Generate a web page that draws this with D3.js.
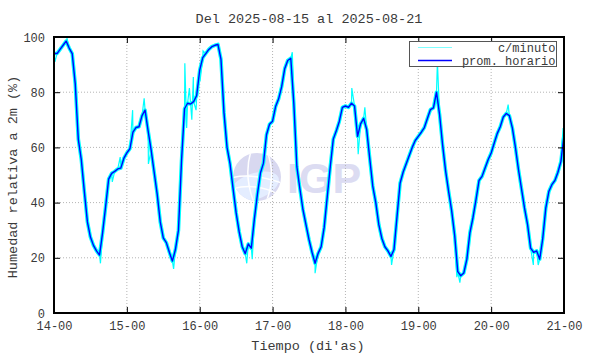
<!DOCTYPE html>
<html>
<head>
<meta charset="utf-8">
<script src="https://cdn.jsdelivr.net/npm/d3@7"></script>
<style>
  body { margin: 0; background: #fff; }
  svg { display: block; }
  text { font-family: "Liberation Mono", "DejaVu Sans Mono", monospace; fill: #3a3a3a; }
</style>
</head>
<body>
<div id="chart"></div>
<script>
// etiquetas del eje x (una por dia, a las 00 h)
const dias = ['14-00', '15-00', '16-00', '17-00', '18-00', '19-00', '20-00', '21-00']
const yTicks = [0, 20, 40, 60, 80, 100]

// promedio horario de humedad relativa (%), una lectura por hora desde 14-00
const dia14 = [94, 94, 95.5, 97, 98.5, 96, 94, 83, 63, 55.5, 44, 33, 27.5, 24.5, 22.5, 21, 29, 38.5, 48.5, 50.6, 51.3, 52.2, 52.5, 56]
const dia15 = [58, 59.5, 65.5, 67.2, 67.5, 71.5, 73.5, 66, 59, 51, 43, 33, 27.2, 25.5, 22, 18.8, 23, 30, 55, 74, 76, 75.7, 76.6, 78.8]
const dia16 = [88, 92.5, 94, 95.5, 96.5, 97, 97.3, 92, 72.5, 60, 54, 45, 36.3, 29.4, 24, 21.5, 25, 23.5, 34, 43, 50.7, 54.3, 64.6, 68.4]
const dia17 = [69.5, 74.8, 77.6, 82, 88.5, 91.5, 92.3, 76, 53, 45, 37.5, 32, 26.6, 22, 18, 21.6, 24, 31, 42, 53, 63, 66, 69.5, 74.5]
const dia18 = [75, 74.5, 76, 75, 64, 68.5, 70.5, 66.5, 56, 46, 40, 32, 27, 24, 22.5, 20.5, 23, 35, 47, 51, 54, 57, 60, 62.5]
const dia19 = [64, 65.5, 67.2, 70.5, 73.7, 74.3, 80, 72, 61, 51.5, 44, 37, 28, 15, 13.5, 14.5, 19.5, 29, 34.5, 41, 48, 49.5, 52.5, 55.5]
const dia20 = [58, 61.5, 65, 67.5, 71, 72.3, 71.5, 67, 60, 52, 45, 38, 32, 23.5, 22, 22.5, 19.5, 27, 38, 44, 46.5, 48, 51, 55]
const dia21 = [64.5]
const horario = [].concat(dia14, dia15, dia16, dia17, dia18, dia19, dia20, dia21)

// lecturas por minuto que se salen del promedio: [hora, %]
const minutoPicos = [
  [0.3, 91], [4.3, 99.5], [15.3, 18], [19.2, 47.5], [21.8, 56.5],
  [25.9, 73.5], [29.7, 77.8], [31.1, 54], [39.4, 16],
  [43.1, 90.5], [43.7, 67], [44.6, 81.5], [45.4, 70], [45.9, 85.5], [46.8, 73.5],
  [48.1, 84], [49.1, 95], [63.5, 18], [65.3, 19.5],
  [78.5, 94.5], [86.0, 14.4],
  [98.1, 81.5], [100.2, 57.5], [102.4, 74.5], [111.2, 17.4],
  [126.3, 91], [132.7, 13], [133.7, 11],
  [149.6, 75.5], [157.9, 17.4], [159.5, 17.4], [167.7, 67]
]

const W = 590, H = 354
const x = d3.scaleLinear().domain([0, 168]).range([54, 564])
const y = d3.scaleLinear().domain([0, 100]).range([313, 37])
const dayTicks = dias.map((d, i) => i * 24)

const svg = d3.select('#chart').append('svg')
  .attr('width', W).attr('height', H)

svg.append('rect').attr('width', W).attr('height', H).attr('fill', '#fff')

svg.append('defs').append('clipPath').attr('id', 'clip')
  .append('rect')
  .attr('x', x(0)).attr('y', y(100))
  .attr('width', x(168) - x(0)).attr('height', y(0) - y(100))

// marca de agua IGP
const logo = svg.append('g').attr('transform', 'translate(257,177)')
logo.append('defs').append('clipPath').attr('id', 'globe')
  .append('circle').attr('r', 24)
logo.append('circle').attr('r', 24).attr('fill', '#d8d8f0')
const globe = logo.append('g').attr('clip-path', 'url(#globe)')
globe.append('ellipse')
  .attr('cx', -6).attr('cy', 8).attr('rx', 26).attr('ry', 13)
  .attr('transform', 'rotate(-20)')
  .attr('fill', '#e4edff')
globe.append('path').attr('d', 'M-30,2 Q-5,-6 30,8').attr('stroke', '#fff').attr('stroke-width', 1.5).attr('fill', 'none')
globe.append('path').attr('d', 'M-30,14 Q-2,2 30,22').attr('stroke', '#fff').attr('stroke-width', 1.5).attr('fill', 'none')
globe.append('path').attr('d', 'M-6,-26 Q-14,0 -2,28').attr('stroke', '#fff').attr('stroke-width', 1.5).attr('fill', 'none')
globe.append('path').attr('d', 'M10,-26 Q20,0 8,28').attr('stroke', '#fff').attr('stroke-width', 1.5).attr('fill', 'none')
svg.append('text')
  .attr('x', 287).attr('y', 193)
  .style('font-family', '"Liberation Sans", Arial, sans-serif')
  .style('font-weight', 'bold')
  .style('font-size', '43px')
  .style('fill', '#dcdcf2')
  .text('IGP')

// rejilla punteada
const grid = svg.append('g')
grid.selectAll('.gx').data(dayTicks.slice(1, -1)).enter().append('line')
  .attr('x1', d => x(d)).attr('x2', d => x(d))
  .attr('y1', y(0)).attr('y2', y(100))
grid.selectAll('.gy').data(yTicks.slice(1, -1)).enter().append('line')
  .attr('x1', x(0)).attr('x2', x(168))
  .attr('y1', d => y(d)).attr('y2', d => y(d))
grid.selectAll('line')
  .attr('stroke', '#b4b4b4')
  .attr('stroke-width', 1)
  .attr('stroke-dasharray', '1,2')

// series
const line = d3.line().x(d => x(d[0])).y(d => y(d[1]))
const ptsHorario = horario.map((v, i) => [i, v])
const ptsMinuto = ptsHorario.concat(minutoPicos).sort((a, b) => a[0] - b[0])

const plot = svg.append('g').attr('clip-path', 'url(#clip)')
plot.append('path').datum(ptsHorario)
  .attr('d', line).attr('fill', 'none')
  .attr('stroke', '#00ffff').attr('stroke-width', 3.6)
  .attr('stroke-linejoin', 'round')
plot.append('path').datum(ptsMinuto)
  .attr('d', line).attr('fill', 'none')
  .attr('stroke', '#00ffff').attr('stroke-width', 1.2)
plot.append('path').datum(ptsHorario)
  .attr('d', line).attr('fill', 'none')
  .attr('stroke', '#0000ff').attr('stroke-width', 1.4)
  .attr('stroke-linejoin', 'round')

// ejes con marcas hacia adentro
const xAxis = d3.axisBottom(x).tickValues(dayTicks).tickSize(-6).tickFormat((d, i) => dias[i])
const yAxis = d3.axisLeft(y).tickValues(yTicks).tickSize(-6)
const gx = svg.append('g').attr('transform', `translate(0,${y(0)})`).call(xAxis)
gx.selectAll('text').attr('y', 17).attr('dy', null)
const gy = svg.append('g').attr('transform', `translate(${x(0)},0)`).call(yAxis)
gy.selectAll('text').attr('x', -9).attr('dy', null).attr('y', 4)
svg.append('g').attr('transform', `translate(0,${y(100)})`)
  .call(d3.axisTop(x).tickValues(dayTicks).tickSize(-6).tickFormat(''))
svg.append('g').attr('transform', `translate(${x(168)},0)`)
  .call(d3.axisRight(y).tickValues(yTicks).tickSize(-6).tickFormat(''))
svg.selectAll('.domain').remove()
svg.selectAll('.tick line').attr('stroke', '#000')
svg.selectAll('.tick text')
  .style('font-family', '"Liberation Mono", monospace')
  .style('font-size', '12px')
  .attr('fill', '#3a3a3a')

svg.append('rect')
  .attr('x', x(0)).attr('y', y(100))
  .attr('width', x(168) - x(0)).attr('height', y(0) - y(100))
  .attr('fill', 'none').attr('stroke', '#000').attr('stroke-width', 2)

// leyenda
const leg = svg.append('g')
leg.append('rect')
  .attr('x', 409.5).attr('y', 41.5).attr('width', 147).attr('height', 25)
  .attr('fill', '#fff').attr('stroke', '#555').attr('stroke-width', 1)
const legItems = [['c/minuto', '#7fffff', 1, 47.5, 52], ['prom. horario', '#0000ff', 1.4, 60.5, 64.5]]
legItems.forEach(([name, color, sw, ly, ty]) => {
  leg.append('line')
    .attr('x1', 418).attr('x2', 452).attr('y1', ly).attr('y2', ly)
    .attr('stroke', color).attr('stroke-width', sw)
  leg.append('text')
    .attr('x', 555.5).attr('y', ty)
    .attr('text-anchor', 'end')
    .style('font-size', '12px')
    .text(name)
})

// titulos
svg.append('text')
  .attr('x', 309).attr('y', 23).attr('text-anchor', 'middle')
  .style('font-size', '13.5px')
  .text('Del 2025-08-15 al 2025-08-21')
svg.append('text')
  .attr('x', 308).attr('y', 350).attr('text-anchor', 'middle')
  .style('font-size', '13.5px')
  .text("Tiempo (di'as)")
svg.append('text')
  .attr('transform', 'translate(17,177) rotate(-90)')
  .attr('text-anchor', 'middle')
  .style('font-size', '13.5px')
  .text('Humedad relativa a 2m (%)')
</script>
</body>
</html>
